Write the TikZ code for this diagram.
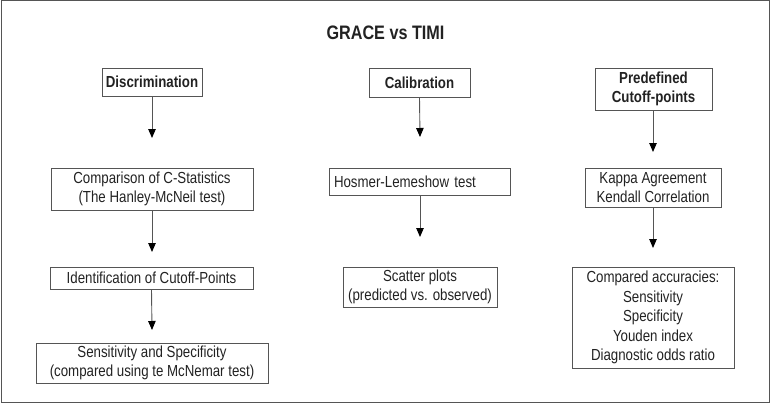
\documentclass[tikz,border=0pt]{standalone}
\usepackage{fontspec}
\newfontfamily\cond[FakeStretch=0.83]{Liberation Sans}
\usetikzlibrary{arrows.meta}
\definecolor{linegray}{HTML}{555555}
\definecolor{textc}{HTML}{222222}
\tikzset{
  box/.style={draw=linegray, line width=0.9pt, inner sep=0pt, align=center, text=textc,
    font=\cond\fontsize{16}{19.4}\selectfont},
  flow/.style={draw=linegray, line width=0.9pt, -{Triangle[width=7.5pt,length=9pt,fill=black,color=black]}}
}
\begin{document}
\begin{tikzpicture}[x=1pt,y=-1pt]
\useasboundingbox (0,0) rectangle (771,404);
\draw[linegray, line width=1pt] (1,1) rectangle (769.5,402.5);
\node[text=textc, font=\cond\bfseries\fontsize{19.5}{22}\selectfont] (title) at (385.5,33) {GRACE vs TIMI};
% column 1
\node[box, font=\cond\bfseries\fontsize{16}{19.4}\selectfont, minimum width=100, minimum height=28] (disc) at (152,82) {Discrimination};
\node[box, minimum width=202, minimum height=42] (comp) at (152,189) {Comparison of C-Statistics\\(The Hanley-McNeil test)};
\node[box, minimum width=203, minimum height=22] (ident) at (151.5,278) {Identification of Cutoff-Points};
\node[box, minimum width=232, minimum height=40] (sens) at (152,363) {Sensitivity and Specificity\\(compared using te McNemar test)};
\coordinate (e1) at (152,138);
\coordinate (e2) at (152,252);
\coordinate (e3) at (152,330);
\draw[flow] (disc.south) -- (e1);
\draw[flow] (comp.south) -- (e2);
\draw[flow] (ident.south) -- (e3);
% column 2
\node[box, font=\cond\bfseries\fontsize{16}{19.4}\selectfont, minimum width=101, minimum height=29] (calib) at (419.5,82.5) {Calibration};
\node[box, minimum width=181, minimum height=27, text width=171, align=left, inner xsep=5pt] (hos) at (419.5,181.5) {Hosmer-Lemeshow test};
\node[box, minimum width=154, minimum height=40] (scat) at (420,287) {Scatter plots\\(predicted vs. observed)};
\coordinate (e4) at (420,137);
\coordinate (e5) at (420,237);
\draw[flow] (calib.south) -- (e4);
\draw[flow] (hos.south -| e5) -- (e5);
% column 3
\node[box, font=\cond\bfseries\fontsize{16}{19.4}\selectfont, minimum width=117, minimum height=42] (pred) at (653.5,89) {Predefined\\Cutoff-points};
\node[box, minimum width=136, minimum height=39] (kap) at (653,187.5) {Kappa Agreement\\Kendall Correlation};
\node[box, minimum width=162, minimum height=101] (acc) at (653,317.5) {Compared accuracies:\\Sensitivity\\Specificity\\Youden index\\Diagnostic odds ratio};
\coordinate (e6) at (653,152);
\coordinate (e7) at (653,248);
\draw[flow] (pred.south -| e6) -- (e6);
\draw[flow] (kap.south) -- (e7);
\end{tikzpicture}
\end{document}
